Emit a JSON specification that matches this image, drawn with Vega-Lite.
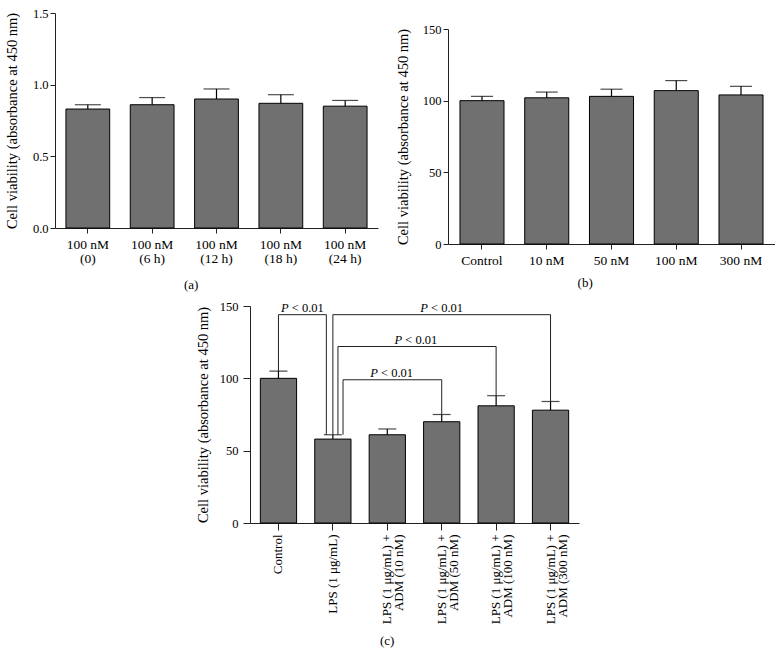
{
  "$schema": "https://vega.github.io/schema/vega-lite/v6.json",
  "background": "white",
  "padding": {"left": 4, "top": 7, "right": 0, "bottom": 0},
  "config": {
    "font": "Liberation Serif",
    "view": {"stroke": null},
    "axis": {"labelFont": "Liberation Serif", "titleFont": "Liberation Serif", "labelFontSize": 12.5, "titleFontSize": 14.5, "titleFontWeight": "normal", "labelColor": "#000", "titleColor": "#000", "domainColor": "#222", "tickColor": "#222", "grid": false, "tickSize": 5, "labelPadding": 2},
    "title": {"font": "Liberation Serif", "fontSize": 13, "fontWeight": "normal", "color": "#000", "orient": "bottom", "frame": "bounds", "anchor": "middle"}
  },
  "datasets": {
    "a": [
      {"condition": "100 nM (0)", "value": 0.83, "upper": 0.86},
      {"condition": "100 nM (6 h)", "value": 0.86, "upper": 0.91},
      {"condition": "100 nM (12 h)", "value": 0.90, "upper": 0.97},
      {"condition": "100 nM (18 h)", "value": 0.87, "upper": 0.93},
      {"condition": "100 nM (24 h)", "value": 0.85, "upper": 0.89}
    ],
    "b": [
      {"condition": "Control", "value": 100, "upper": 103},
      {"condition": "10 nM", "value": 102, "upper": 106},
      {"condition": "50 nM", "value": 103, "upper": 108},
      {"condition": "100 nM", "value": 107, "upper": 114},
      {"condition": "300 nM", "value": 104, "upper": 110}
    ],
    "c": [
      {"group": "Control", "value": 100, "upper": 105},
      {"group": "LPS (1 μg/mL)", "value": 58, "upper": 61},
      {"group": "LPS (1 μg/mL) + ADM (10 nM)", "value": 61, "upper": 65},
      {"group": "LPS (1 μg/mL) + ADM (50 nM)", "value": 70, "upper": 75},
      {"group": "LPS (1 μg/mL) + ADM (100 nM)", "value": 81, "upper": 88},
      {"group": "LPS (1 μg/mL) + ADM (300 nM)", "value": 78, "upper": 84}
    ],
    "legsCenter": [
      {"group": "Control", "low": 105, "high": 144},
      {"group": "LPS (1 μg/mL)", "low": 61, "high": 144},
      {"group": "LPS (1 μg/mL) + ADM (50 nM)", "low": 75, "high": 99},
      {"group": "LPS (1 μg/mL) + ADM (100 nM)", "low": 88, "high": 122},
      {"group": "LPS (1 μg/mL) + ADM (300 nM)", "low": 84, "high": 144}
    ],
    "bracketControl": [{"from": "Control", "to": "LPS (1 μg/mL)", "level": 144, "low": 61, "p": "P", "rest": "< 0.01"}],
    "bracket300": [{"from": "LPS (1 μg/mL)", "to": "LPS (1 μg/mL) + ADM (300 nM)", "level": 144, "low": 61, "p": "P", "rest": "< 0.01"}],
    "bracket100": [{"from": "LPS (1 μg/mL)", "to": "LPS (1 μg/mL) + ADM (100 nM)", "level": 122, "low": 61, "p": "P", "rest": "< 0.01"}],
    "bracket50": [{"from": "LPS (1 μg/mL)", "to": "LPS (1 μg/mL) + ADM (50 nM)", "level": 99, "low": 61, "p": "P", "rest": "< 0.01"}]
  },
  "spacing": 8,
  "vconcat": [
    {
      "spacing": 17,
      "hconcat": [
        {
          "width": 323, "height": 215,
          "data": {"name": "a"},
          "title": {"text": "(a)", "offset": 14},
          "encoding": {
            "x": {"field": "condition", "type": "nominal", "sort": null,
                  "scale": {"paddingInner": 0.32, "paddingOuter": 0.17},
                  "axis": {"title": null, "labelAngle": 0, "labelFontSize": 13.5, "labelPadding": 4, "labelLineHeight": 14,
                           "labelExpr": "split(replace(datum.label, ' (', '|('), '|')"}}
          },
          "layer": [
            {"mark": {"type": "bar", "fill": "#707070", "stroke": "#000", "strokeWidth": 1},
             "encoding": {"y": {"field": "value", "type": "quantitative", "scale": {"domain": [0, 1.5], "nice": false},
                                "axis": {"values": [0, 0.5, 1, 1.5], "format": ".1f", "title": "Cell viability (absorbance at 450 nm)", "titlePadding": 13}}}},
            {"mark": {"type": "rule", "color": "#000", "strokeWidth": 1.2},
             "encoding": {"y": {"field": "value", "type": "quantitative"}, "y2": {"field": "upper"}}},
            {"mark": {"type": "tick", "color": "#000", "thickness": 1.2, "size": 26},
             "encoding": {"y": {"field": "upper", "type": "quantitative"}}}
          ]
        },
        {
          "spacing": 0,
          "vconcat": [
            {"width": 1, "height": 10, "data": {"values": []}, "mark": "point"},
            {
              "width": 327, "height": 215,
              "data": {"name": "b"},
              "title": {"text": "(b)", "offset": 10},
              "encoding": {
                "x": {"field": "condition", "type": "nominal", "sort": null,
                      "scale": {"paddingInner": 0.32, "paddingOuter": 0.185},
                      "axis": {"title": null, "labelAngle": 0, "labelFontSize": 13.5, "labelPadding": 4}}
              },
              "layer": [
                {"mark": {"type": "bar", "fill": "#707070", "stroke": "#000", "strokeWidth": 1},
                 "encoding": {"y": {"field": "value", "type": "quantitative", "scale": {"domain": [0, 150], "nice": false},
                                    "axis": {"values": [0, 50, 100, 150], "title": "Cell viability (absorbance at 450 nm)", "titlePadding": 12}}}},
                {"mark": {"type": "rule", "color": "#000", "strokeWidth": 1.2},
                 "encoding": {"y": {"field": "value", "type": "quantitative"}, "y2": {"field": "upper"}}},
                {"mark": {"type": "tick", "color": "#000", "thickness": 1.2, "size": 22},
                 "encoding": {"y": {"field": "upper", "type": "quantitative"}}}
              ]
            }
          ]
        }
      ]
    },
    {
      "spacing": 0,
      "bounds": "flush",
      "hconcat": [
        {"width": 195, "height": 1, "data": {"values": []}, "mark": "point"},
        {
          "width": 329, "height": 217,
          "data": {"name": "c"},
          "title": {"text": "(c)", "offset": 11},
          "layer": [
            {"mark": {"type": "bar", "fill": "#707070", "stroke": "#000", "strokeWidth": 1},
             "encoding": {
               "x": {"field": "group", "type": "nominal",
                     "scale": {"domain": ["Control", "LPS (1 μg/mL)", "LPS (1 μg/mL) + ADM (10 nM)", "LPS (1 μg/mL) + ADM (50 nM)", "LPS (1 μg/mL) + ADM (100 nM)", "LPS (1 μg/mL) + ADM (300 nM)"],
                               "paddingInner": 0.334, "paddingOuter": 0.19},
                     "axis": {"title": null, "labelAngle": -90, "labelFontSize": 13, "labelPadding": 4, "tickSize": 7, "labelLineHeight": 12,
                              "labelExpr": "split(replace(datum.label, ' + ', ' +|'), '|')"}},
               "y": {"field": "value", "type": "quantitative", "scale": {"domain": [0, 150], "nice": false},
                     "axis": {"values": [0, 50, 100, 150], "title": "Cell viability (absorbance at 450 nm)", "titlePadding": 9, "tickSize": 7, "labelPadding": 5}}
             }},
            {"mark": {"type": "rule", "color": "#000", "strokeWidth": 1.2},
             "encoding": {"x": {"field": "group", "type": "nominal"}, "y": {"field": "value", "type": "quantitative"}, "y2": {"field": "upper"}}},
            {"mark": {"type": "tick", "color": "#000", "thickness": 1.2, "size": 18},
             "encoding": {"x": {"field": "group", "type": "nominal"}, "y": {"field": "upper", "type": "quantitative"}}},
            {"data": {"name": "legsCenter"},
             "mark": {"type": "rule", "color": "#222", "strokeWidth": 1},
             "encoding": {"x": {"field": "group", "type": "nominal", "bandPosition": 0.5}, "y": {"field": "low", "type": "quantitative"}, "y2": {"field": "high"}}},
            {
              "data": {"name": "bracketControl"},
              "layer": [
                {"mark": {"type": "rule", "color": "#222", "strokeWidth": 1},
                 "encoding": {"x": {"field": "to", "type": "nominal", "bandPosition": 0.32}, "y": {"field": "low", "type": "quantitative"}, "y2": {"field": "level"}}},
                {"mark": {"type": "rule", "color": "#222", "strokeWidth": 1},
                 "encoding": {"x": {"field": "from", "type": "nominal", "bandPosition": 0.5}, "x2": {"field": "to", "bandPosition": 0.32}, "y": {"field": "level", "type": "quantitative"}}},
                {"mark": {"type": "text", "fontSize": 12.5, "fontStyle": "italic", "align": "left", "baseline": "bottom", "dx": -21.3, "color": "#000"},
                 "encoding": {"x": {"field": "from", "type": "nominal", "bandPosition": 1.16}, "y": {"field": "level", "type": "quantitative"}, "text": {"field": "p"}}},
                {"mark": {"type": "text", "fontSize": 12.5, "align": "left", "baseline": "bottom", "dx": -10.6, "color": "#000"},
                 "encoding": {"x": {"field": "from", "type": "nominal", "bandPosition": 1.16}, "y": {"field": "level", "type": "quantitative"}, "text": {"field": "rest"}}}
              ]
            },
            {
              "data": {"name": "bracket300"},
              "layer": [
                {"mark": {"type": "rule", "color": "#222", "strokeWidth": 1},
                 "encoding": {"x": {"field": "from", "type": "nominal", "bandPosition": 0.5}, "x2": {"field": "to", "bandPosition": 0.5}, "y": {"field": "level", "type": "quantitative"}}},
                {"mark": {"type": "text", "fontSize": 12.5, "fontStyle": "italic", "align": "left", "baseline": "bottom", "dx": -21.3, "color": "#000"},
                 "encoding": {"x": {"field": "from", "type": "nominal", "bandPosition": 3.5}, "y": {"field": "level", "type": "quantitative"}, "text": {"field": "p"}}},
                {"mark": {"type": "text", "fontSize": 12.5, "align": "left", "baseline": "bottom", "dx": -10.6, "color": "#000"},
                 "encoding": {"x": {"field": "from", "type": "nominal", "bandPosition": 3.5}, "y": {"field": "level", "type": "quantitative"}, "text": {"field": "rest"}}}
              ]
            },
            {
              "data": {"name": "bracket100"},
              "layer": [
                {"mark": {"type": "rule", "color": "#222", "strokeWidth": 1},
                 "encoding": {"x": {"field": "from", "type": "nominal", "bandPosition": 0.64}, "y": {"field": "low", "type": "quantitative"}, "y2": {"field": "level"}}},
                {"mark": {"type": "rule", "color": "#222", "strokeWidth": 1},
                 "encoding": {"x": {"field": "from", "type": "nominal", "bandPosition": 0.64}, "x2": {"field": "to", "bandPosition": 0.5}, "y": {"field": "level", "type": "quantitative"}}},
                {"mark": {"type": "text", "fontSize": 12.5, "fontStyle": "italic", "align": "left", "baseline": "bottom", "dx": -21.3, "color": "#000"},
                 "encoding": {"x": {"field": "from", "type": "nominal", "bandPosition": 2.79}, "y": {"field": "level", "type": "quantitative"}, "text": {"field": "p"}}},
                {"mark": {"type": "text", "fontSize": 12.5, "align": "left", "baseline": "bottom", "dx": -10.6, "color": "#000"},
                 "encoding": {"x": {"field": "from", "type": "nominal", "bandPosition": 2.79}, "y": {"field": "level", "type": "quantitative"}, "text": {"field": "rest"}}}
              ]
            },
            {
              "data": {"name": "bracket50"},
              "layer": [
                {"mark": {"type": "rule", "color": "#222", "strokeWidth": 1},
                 "encoding": {"x": {"field": "from", "type": "nominal", "bandPosition": 0.78}, "y": {"field": "low", "type": "quantitative"}, "y2": {"field": "level"}}},
                {"mark": {"type": "rule", "color": "#222", "strokeWidth": 1},
                 "encoding": {"x": {"field": "from", "type": "nominal", "bandPosition": 0.78}, "x2": {"field": "to", "bandPosition": 0.5}, "y": {"field": "level", "type": "quantitative"}}},
                {"mark": {"type": "text", "fontSize": 12.5, "fontStyle": "italic", "align": "left", "baseline": "bottom", "dx": -21.3, "color": "#000"},
                 "encoding": {"x": {"field": "from", "type": "nominal", "bandPosition": 2.12}, "y": {"field": "level", "type": "quantitative"}, "text": {"field": "p"}}},
                {"mark": {"type": "text", "fontSize": 12.5, "align": "left", "baseline": "bottom", "dx": -10.6, "color": "#000"},
                 "encoding": {"x": {"field": "from", "type": "nominal", "bandPosition": 2.12}, "y": {"field": "level", "type": "quantitative"}, "text": {"field": "rest"}}}
              ]
            }
          ]
        }
      ]
    }
  ]
}
